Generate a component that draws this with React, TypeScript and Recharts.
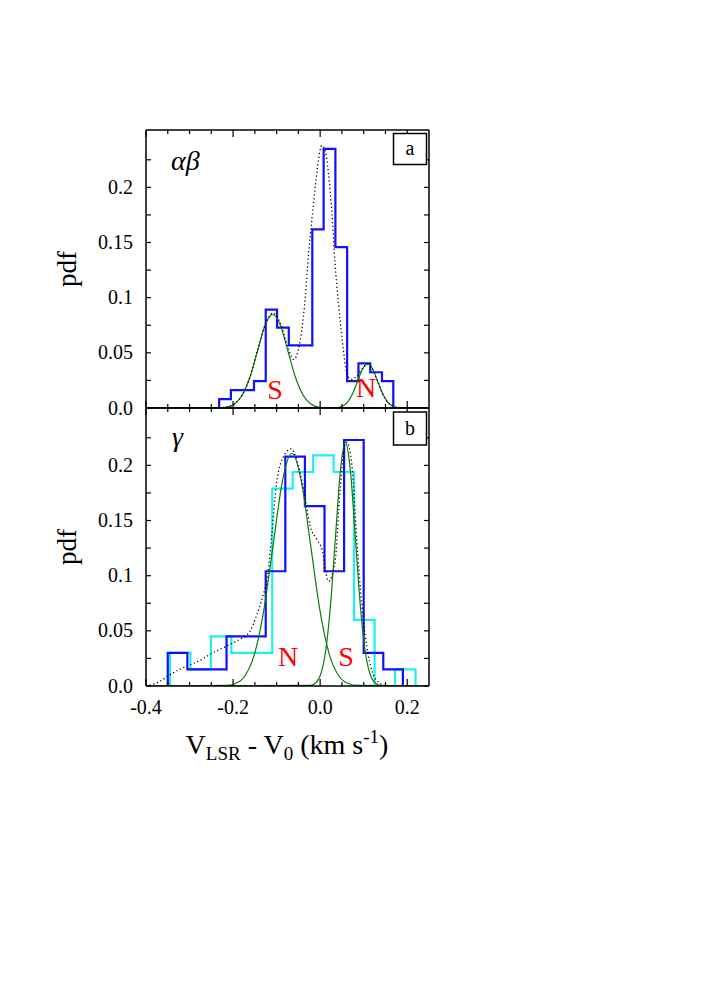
import { Line, LineChart, XAxis, YAxis } from 'recharts'

// axis ticks
const xTicks = [-0.4, -0.35, -0.3, -0.25, -0.2, -0.15, -0.1, -0.05, 0, 0.05, 0.1, 0.15, 0.2]
const yTicks = [0, 0.025, 0.05, 0.075, 0.1, 0.125, 0.15, 0.175, 0.2, 0.225]

// panel a (alpha beta) histogram
const abEdges = [-0.232, -0.205, -0.179, -0.152, -0.125, -0.099, -0.072, -0.045, -0.018, 0.008, 0.035, 0.062, 0.088, 0.115, 0.142, 0.168]
const abHist = [0.0081, 0.0162, 0.0162, 0.0243, 0.0891, 0.0729, 0.0567, 0.0567, 0.162, 0.2349, 0.1458, 0.0243, 0.0405, 0.0324, 0.0243]

// panel a fitted components
const abSX = [-0.4, -0.2315, -0.214, -0.1965, -0.179, -0.1615, -0.144, -0.1265, -0.109, -0.0915, -0.074, -0.0565, -0.039, -0.0215, -0.004, 0.0135, 0.25]
const abSY = [0, 0.0002, 0.0009, 0.0037, 0.0115, 0.0276, 0.0516, 0.075, 0.085, 0.075, 0.0516, 0.0276, 0.0115, 0.0037, 0.0009, 0.0002, 0]
const abNX = [-0.4, 0.0285, 0.04, 0.0515, 0.063, 0.0745, 0.086, 0.0975, 0.109, 0.1205, 0.132, 0.1435, 0.155, 0.1665, 0.178, 0.1895, 0.25]
const abNY = [0, 0.0001, 0.0004, 0.0018, 0.0054, 0.013, 0.0243, 0.0353, 0.04, 0.0353, 0.0243, 0.013, 0.0054, 0.0018, 0.0004, 0.0001, 0]

// panel a density (dotted)
const abDX = [-0.25, -0.214, -0.1965, -0.179, -0.1615, -0.144, -0.1265, -0.109, -0.0915, -0.074, -0.061, -0.05, -0.042, -0.034, -0.027, -0.019, -0.011, -0.004, 0.004, 0.011, 0.019, 0.027, 0.034, 0.042, 0.05, 0.057, 0.063, 0.073, 0.084, 0.0975, 0.109, 0.1205, 0.132, 0.1435, 0.155, 0.1665, 0.178, 0.2]
const abDY = [0, 0.001, 0.004, 0.012, 0.028, 0.052, 0.075, 0.086, 0.077, 0.055, 0.044, 0.053, 0.071, 0.101, 0.138, 0.171, 0.201, 0.225, 0.238, 0.234, 0.213, 0.177, 0.132, 0.095, 0.065, 0.041, 0.029, 0.026, 0.029, 0.036, 0.04, 0.035, 0.024, 0.013, 0.0054, 0.0018, 0.0004, 0]

// panel b (gamma) histograms
const gBlueEdges = [-0.35, -0.305, -0.26, -0.215, -0.17, -0.125, -0.08, -0.035, 0.01, 0.055, 0.1, 0.145, 0.19]
const gBlueHist = [0.03, 0.015, 0.015, 0.045, 0.045, 0.104, 0.208, 0.163, 0.104, 0.223, 0.03, 0.015]
const gCyanEdges = [-0.345, -0.298, -0.251, -0.204, -0.157, -0.11, -0.063, -0.016, 0.031, 0.078, 0.125, 0.172, 0.219]
const gCyanHist = [0.03, 0.015, 0.045, 0.03, 0.03, 0.179, 0.194, 0.209, 0.194, 0.06, 0, 0.015]

// panel b fitted components
const gNX = [-0.4, -0.2155, -0.194, -0.1725, -0.151, -0.1295, -0.108, -0.0865, -0.065, -0.0435, -0.022, -0.0005, 0.021, 0.0425, 0.064, 0.0855, 0.25]
const gNY = [0, 0.0005, 0.0023, 0.0093, 0.0286, 0.0685, 0.128, 0.1862, 0.211, 0.1862, 0.128, 0.0685, 0.0286, 0.0093, 0.0023, 0.0005, 0]
const gSX = [-0.4, -0.0225, -0.011, 0.0005, 0.012, 0.0235, 0.035, 0.0465, 0.058, 0.0695, 0.081, 0.0925, 0.104, 0.1155, 0.127, 0.1385, 0.25]
const gSY = [0, 0.0005, 0.0025, 0.0097, 0.0299, 0.0718, 0.134, 0.195, 0.221, 0.195, 0.134, 0.0718, 0.0299, 0.0097, 0.0025, 0.0005, 0]

// panel b density (dotted)
const gDX = [-0.4, -0.369, -0.346, -0.323, -0.3, -0.277, -0.247, -0.216, -0.186, -0.162, -0.147, -0.132, -0.12, -0.112, -0.1, -0.084, -0.067, -0.054, -0.038, -0.023, -0.008, 0.004, 0.019, 0.034, 0.046, 0.057, 0.061, 0.073, 0.084, 0.096, 0.111, 0.13, 0.15]
const gDY = [0, 0.004, 0.01, 0.015, 0.019, 0.023, 0.03, 0.036, 0.042, 0.049, 0.063, 0.081, 0.102, 0.133, 0.184, 0.208, 0.215, 0.205, 0.178, 0.145, 0.133, 0.124, 0.095, 0.112, 0.178, 0.219, 0.221, 0.2, 0.133, 0.072, 0.027, 0.005, 0]

const X_DOMAIN: [number, number] = [-0.4, 0.25]
const Y_DOMAIN: [number, number] = [0, 0.252]
const FONT = '"Liberation Serif", serif'
const BLUE = '#1010ff'
const CYAN = '#1ef0f0'
const GREEN = '#0a7d0a'

const pts = (xs: number[], ys: number[]) => xs.map((x, i) => ({ x, y: ys[i] }))

// histogram outline as stepAfter points, rising from and falling back to zero
const steps = (edges: number[], heights: number[]) => [
  { x: edges[0], y: 0 },
  ...heights.map((h, i) => ({ x: edges[i], y: h })),
  { x: edges[edges.length - 1], y: 0 },
]

const isMult = (v: number, step: number) => Math.abs(v / step - Math.round(v / step)) < 1e-6

const fmtY = (v: number) => (v === 0 ? '0.0' : String(+v.toFixed(3)))

// ticks point inwards; labels only where the reference has them
function xTick(side: 'bottom' | 'top', labels: boolean) {
  return (p: any) => {
    const v = p.payload.value
    const major = isMult(v, 0.2)
    const len = major ? 7 : 4
    const dir = side === 'bottom' ? -1 : 1
    return (
      <g>
        <line x1={p.x} x2={p.x} y1={p.y} y2={p.y + dir * len} stroke="#000" strokeWidth={1.2} />
        {labels && major && (
          <text x={p.x} y={p.y + 28} textAnchor="middle" fontFamily={FONT} fontSize={20} fill="#000">
            {v.toFixed(1)}
          </text>
        )}
      </g>
    )
  }
}

function yTick(side: 'left' | 'right') {
  return (p: any) => {
    const v = p.payload.value
    const dir = side === 'left' ? 1 : -1
    return (
      <g>
        <line x1={p.x} x2={p.x + dir * 5} y1={p.y} y2={p.y} stroke="#000" strokeWidth={1.2} />
        {side === 'left' && isMult(v, 0.05) && (
          <text x={p.x - 13} y={p.y + 6.5} textAnchor="end" fontFamily={FONT} fontSize={20} fill="#000">
            {fmtY(v)}
          </text>
        )}
      </g>
    )
  }
}

const frame = { stroke: '#000', strokeWidth: 1.5 }

function Panel({
  height,
  margin,
  xLabels,
  children,
}: {
  height: number
  margin: { top: number; right: number; bottom: number; left: number }
  xLabels: boolean
  children: any
}) {
  return (
    <LineChart width={708} height={height} margin={margin} style={{ overflow: 'visible' }}>
      <XAxis xAxisId="b" type="number" dataKey="x" domain={X_DOMAIN} allowDataOverflow ticks={xTicks} interval={0}
        orientation="bottom" height={1} tickSize={0} tickMargin={0} tickLine={false} axisLine={frame} tick={xTick('bottom', xLabels)} />
      <XAxis xAxisId="t" type="number" dataKey="x" domain={X_DOMAIN} allowDataOverflow ticks={xTicks} interval={0}
        orientation="top" height={1} tickSize={0} tickMargin={0} tickLine={false} axisLine={frame} tick={xTick('top', false)} />
      <YAxis yAxisId="l" type="number" domain={Y_DOMAIN} allowDataOverflow ticks={yTicks} interval={0}
        width={1} tickSize={0} tickMargin={0} tickLine={false} axisLine={frame} tick={yTick('left')} />
      <YAxis yAxisId="r" orientation="right" type="number" domain={Y_DOMAIN} allowDataOverflow ticks={yTicks} interval={0}
        width={1} tickSize={0} tickMargin={0} tickLine={false} axisLine={frame} tick={yTick('right')} />
      {children}
    </LineChart>
  )
}

const lineProps = { xAxisId: 'b', yAxisId: 'l', dataKey: 'y', dot: false, activeDot: false, isAnimationActive: false }

export default function App() {
  return (
    <div style={{ position: 'absolute', left: 0, top: 0, width: 708, height: 981, background: '#fff' }}>
      <div style={{ position: 'absolute', left: 0, top: 0 }}>
        <Panel height={420} margin={{ top: 129, right: 278, bottom: 11, left: 145 }} xLabels={false}>
          <Line {...lineProps} data={steps(abEdges, abHist)} type="stepAfter" stroke={BLUE} strokeWidth={2.2} />
          <Line {...lineProps} data={pts(abSX, abSY)} type="monotone" stroke={GREEN} strokeWidth={1.2} />
          <Line {...lineProps} data={pts(abNX, abNY)} type="monotone" stroke={GREEN} strokeWidth={1.2} />
          <Line {...lineProps} data={pts(abDX, abDY)} type="monotone" stroke="#000" strokeWidth={1.3} strokeDasharray="1.2 2.6" />
        </Panel>
      </div>
      <div style={{ position: 'absolute', left: 0, top: 400 }}>
        <Panel height={330} margin={{ top: 7, right: 278, bottom: 43, left: 145 }} xLabels={true}>
          <Line {...lineProps} data={steps(gCyanEdges, gCyanHist)} type="stepAfter" stroke={CYAN} strokeWidth={2.2} />
          <Line {...lineProps} data={steps(gBlueEdges, gBlueHist)} type="stepAfter" stroke={BLUE} strokeWidth={2.2} />
          <Line {...lineProps} data={pts(gNX, gNY)} type="monotone" stroke={GREEN} strokeWidth={1.2} />
          <Line {...lineProps} data={pts(gSX, gSY)} type="monotone" stroke={GREEN} strokeWidth={1.2} />
          <Line {...lineProps} data={pts(gDX, gDY)} type="monotone" stroke="#000" strokeWidth={1.3} strokeDasharray="1.2 2.6" />
        </Panel>
      </div>
      <svg width={708} height={981} style={{ position: 'absolute', left: 0, top: 0, pointerEvents: 'none' }}>
        <g fontFamily={FONT} fill="#000">
          <text x={171} y={170} fontSize={28} fontStyle="italic">αβ</text>
          <text x={172} y={446} fontSize={28} fontStyle="italic">γ</text>
          <rect x={393.5} y={133.5} width={33} height={31} fill="#fff" stroke="#000" strokeWidth={1.5} />
          <text x={410} y={155} fontSize={20} textAnchor="middle">a</text>
          <rect x={393.5} y={412} width={33} height={33} fill="#fff" stroke="#000" strokeWidth={1.5} />
          <text x={410} y={435} fontSize={20} textAnchor="middle">b</text>
          <g fill="#ff0000" fontSize={28} textAnchor="middle">
            <text x={275} y={399}>S</text>
            <text x={366} y={397}>N</text>
            <text x={288} y={666}>N</text>
            <text x={346} y={666}>S</text>
          </g>
          <text x={0} y={0} fontSize={27} textAnchor="middle" transform="translate(76 269) rotate(-90)">pdf</text>
          <text x={0} y={0} fontSize={27} textAnchor="middle" transform="translate(76 547) rotate(-90)">pdf</text>
          <text x={287} y={754} fontSize={28} textAnchor="middle">
            V<tspan fontSize={19} dy={6}>LSR</tspan>
            <tspan dy={-6}> - V</tspan>
            <tspan fontSize={19} dy={6}>0</tspan>
            <tspan dy={-6}> (km s</tspan>
            <tspan fontSize={19} dy={-11}>-1</tspan>
            <tspan dy={11}>)</tspan>
          </text>
        </g>
      </svg>
    </div>
  )
}
